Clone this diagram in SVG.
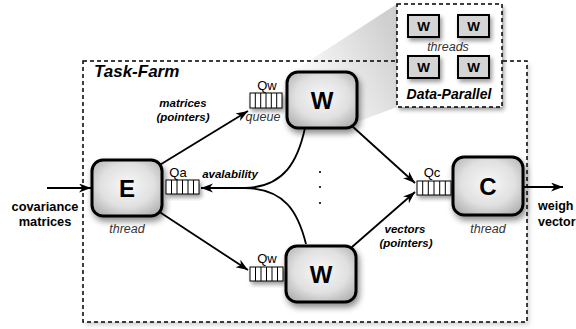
<svg xmlns="http://www.w3.org/2000/svg" width="576" height="329" viewBox="0 0 576 329">
<defs>
<style>
text{font-family:"Liberation Sans",Arial,sans-serif;fill:#000}
.node{stroke:#000;stroke-width:3;fill:url(#ng);filter:url(#sh)}
.lbl{font-size:24px;font-weight:bold;text-anchor:middle}
.it{font-style:italic;font-size:12.5px;text-anchor:middle;fill:#333}
.bi{font-style:italic;font-weight:bold;font-size:11.5px;text-anchor:middle}
.q{font-size:13px;text-anchor:middle}
.bl{font-weight:bold;font-size:12.8px;text-anchor:middle}
.dash{fill:none;stroke:#000;stroke-width:1.5;stroke-dasharray:4,3}
.ln{fill:none;stroke:#000;stroke-width:1.8}
.arr{marker-end:url(#ah)}
.qb{fill:#fff;stroke:#000;stroke-width:1;filter:url(#sh2)}
.qc{stroke:#000;stroke-width:1}
.sw{fill:#d4d4d4;stroke:#000;stroke-width:2;filter:url(#sh2)}
.swt{font-size:13.5px;font-weight:bold;text-anchor:middle}
</style>
<radialGradient id="ng" cx="0.5" cy="0.45" r="0.65">
<stop offset="0" stop-color="#f8f8f8"/>
<stop offset="0.6" stop-color="#e0e0e0"/>
<stop offset="1" stop-color="#b0b0b0"/>
</radialGradient>
<linearGradient id="wg" gradientUnits="userSpaceOnUse" x1="300" y1="90" x2="397" y2="40">
<stop offset="0" stop-color="#ffffff"/>
<stop offset="1" stop-color="#cfcfcf"/>
</linearGradient>
<filter id="sh" x="-30%" y="-30%" width="160%" height="170%">
<feDropShadow dx="2" dy="4" stdDeviation="3" flood-color="#000" flood-opacity="0.45"/>
</filter>
<filter id="sh2" x="-30%" y="-30%" width="170%" height="180%">
<feDropShadow dx="2" dy="3" stdDeviation="2" flood-color="#000" flood-opacity="0.4"/>
</filter>
<filter id="sh3" x="-5%" y="-5%" width="110%" height="115%">
<feDropShadow dx="2" dy="3" stdDeviation="2.5" flood-color="#000" flood-opacity="0.18"/>
</filter>
<marker id="ah" markerWidth="13" markerHeight="10" refX="12" refY="4.5" orient="auto" markerUnits="userSpaceOnUse">
<path d="M0,0 L12,4.5 L0,9 L3.5,4.5 z" fill="#000"/>
</marker>
</defs>

<g id="task-farm">
<rect x="83" y="61" width="444" height="261" fill="#fff" filter="url(#sh3)"/>
<polygon points="292,72 397,4 397,107 357,122" fill="url(#wg)"/>
<rect x="83" y="61" width="444" height="261" class="dash"/>
<text x="94" y="77" font-size="17" font-weight="bold" font-style="italic">Task-Farm</text>
</g>

<g id="data-parallel">
<rect x="397" y="4" width="105" height="103" fill="#fff" filter="url(#sh2)"/>
<rect x="397" y="4" width="105" height="103" class="dash"/>
<rect x="408" y="15" width="31" height="22" class="sw"/>
<text x="423.5" y="31" class="swt">W</text>
<rect x="458" y="15" width="31" height="22" class="sw"/>
<text x="473.5" y="31" class="swt">W</text>
<text x="448" y="51" class="it">threads</text>
<rect x="408" y="56" width="31" height="22" class="sw"/>
<text x="423.5" y="72" class="swt">W</text>
<rect x="458" y="56" width="31" height="22" class="sw"/>
<text x="473.5" y="72" class="swt">W</text>
<text x="449" y="99" font-size="14" font-weight="bold" font-style="italic" text-anchor="middle">Data-Parallel</text>
</g>

<g id="connectors">
<line x1="47" y1="188" x2="91" y2="188" class="ln arr"/>
<line x1="524" y1="187" x2="563" y2="187" class="ln arr"/>
<line x1="158" y1="166" x2="248" y2="111" class="ln arr"/>
<line x1="158" y1="211" x2="248" y2="270" class="ln arr"/>
<line x1="352" y1="126" x2="415" y2="183" class="ln arr"/>
<line x1="352" y1="247" x2="415" y2="192" class="ln arr"/>
<path d="M305,128 C298,160 285,187 245,188 L201,188" class="ln arr"/>
<path d="M306,244 C298,212 285,189 245,188" class="ln"/>
<circle cx="320" cy="172" r="1.1" fill="#000"/>
<circle cx="320" cy="187" r="1.1" fill="#000"/>
<circle cx="320" cy="203" r="1.1" fill="#000"/>
<text x="183" y="107" class="bi">matrices</text>
<text x="183" y="121" class="bi">(pointers)</text>
<text x="230" y="178" class="bi">avalability</text>
<text x="405" y="233" class="bi">vectors</text>
<text x="406" y="247" class="bi">(pointers)</text>
<text x="45" y="211" class="bl">covariance</text>
<text x="45" y="226" class="bl">matrices</text>
<text x="538" y="210" font-size="12.5" font-weight="bold">weigh</text>
<text x="538" y="226" font-size="12.5" font-weight="bold">vector</text>
</g>

<g id="E">
<rect x="92" y="160" width="70" height="56" rx="11" class="node"/>
<text x="127" y="197" class="lbl">E</text>
<text x="127" y="233" class="it">thread</text>
</g>

<g id="Qa">
<rect x="166" y="180" width="33" height="14" class="qb"/>
<path d="M171.5,180v14M177,180v14M182.5,180v14M188,180v14M193.5,180v14" class="qc"/>
<text x="178" y="177" class="q">Qa</text>
</g>

<g id="W-top">
<rect x="287" y="72" width="70" height="56" rx="11" class="node"/>
<text x="322" y="109" class="lbl">W</text>
</g>

<g id="Qw-top">
<rect x="250" y="93" width="32" height="15" class="qb"/>
<path d="M255.3,93v15M260.7,93v15M266,93v15M271.3,93v15M276.7,93v15" class="qc"/>
<text x="267" y="90" class="q">Qw</text>
<text x="263" y="121" class="it">queue</text>
</g>

<g id="W-bottom">
<rect x="286" y="246" width="70" height="56" rx="11" class="node"/>
<text x="321" y="283" class="lbl">W</text>
</g>

<g id="Qw-bottom">
<rect x="250" y="267" width="33" height="14" class="qb"/>
<path d="M255.5,267v14M261,267v14M266.5,267v14M272,267v14M277.5,267v14" class="qc"/>
<text x="267" y="263" class="q">Qw</text>
</g>

<g id="Qc">
<rect x="417" y="181" width="34" height="14" class="qb"/>
<path d="M422.7,181v14M428.3,181v14M434,181v14M439.7,181v14M445.3,181v14" class="qc"/>
<text x="432" y="177" class="q">Qc</text>
</g>

<g id="C">
<rect x="453" y="157" width="70" height="58" rx="11" class="node"/>
<text x="488" y="195" class="lbl">C</text>
<text x="488" y="233" class="it">thread</text>
</g>
</svg>
